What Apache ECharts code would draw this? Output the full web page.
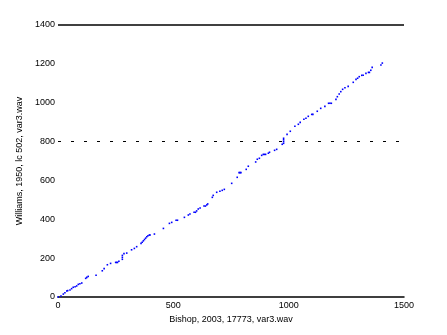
<!DOCTYPE html>
<html><head><meta charset="utf-8">
<script src="https://cdn.jsdelivr.net/npm/echarts@6/dist/echarts.min.js"></script>
<style>html,body{margin:0;padding:0;background:#fff}#c{width:447px;height:335px}</style>
</head><body><div id="c"></div>
<script>
const xName = 'Bishop, 2003, 17773, var3.wav';
const yName = 'Williams, 1950, lc 502, var3.wav';
const xTicks = [0, 500, 1000, 1500];
const yTicks = [0, 200, 400, 600, 800, 1000, 1200, 1400];
const refSolid = 1400;
const refDotted = 800;
const bishopX = [1,13,23,30,38,42,52,59,66,74,81,88,95,103,120,125,131,165,192,200,214,228,250,254,258,264,279,279,279,286,298,319,331,341,360,365,370,375,380,385,390,396,399,418,457,483,493,512,518,548,565,572,590,596,601,608,616,633,639,645,649,669,673,688,702,712,721,753,777,785,789,793,816,825,857,864,873,883,890,895,900,912,917,939,948,972,978,978,978,978,993,1007,1027,1042,1050,1066,1075,1085,1100,1105,1124,1139,1157,1173,1179,1185,1205,1211,1219,1226,1234,1244,1258,1280,1292,1299,1306,1317,1323,1335,1346,1350,1356,1362,1400,1406];
const williamsY = [0,5,15,22,31,33,36,43,50,53,57,65,68,72,96,101,106,112,135,146,166,173,178,178,178,184,194,204,214,223,226,243,250,259,276,282,289,296,303,310,315,319,319,324,353,379,384,395,395,410,422,427,436,436,443,453,458,468,468,474,479,513,523,539,544,549,554,585,616,640,640,640,657,673,695,709,714,729,734,734,734,740,745,755,760,786,791,800,809,817,837,853,879,889,899,915,920,930,940,940,956,971,981,997,997,997,1017,1031,1045,1057,1069,1077,1084,1105,1120,1126,1134,1141,1141,1151,1156,1156,1167,1182,1194,1204];
const points = bishopX.map((x, i) => [x, williamsY[i]]);
const chart = echarts.init(document.getElementById('c'));
const font = {fontFamily: 'Liberation Sans, Arial, sans-serif', fontSize: 9, color: '#000'};
const plain = v => String(v);
chart.setOption({
  animation: false,
  grid: {left: 58, right: 43, top: 25, bottom: 38},
  xAxis: {
    type: 'value', min: xTicks[0], max: xTicks[xTicks.length - 1], interval: 500,
    name: xName, nameLocation: 'middle', nameGap: 15,
    nameTextStyle: font,
    axisLine: {show: true, onZero: false, lineStyle: {color: '#000', width: 1.5}},
    axisTick: {show: false},
    axisLabel: Object.assign({margin: 4, formatter: plain}, font),
    splitLine: {show: false}
  },
  yAxis: {
    type: 'value', min: yTicks[0], max: yTicks[yTicks.length - 1], interval: 200,
    name: yName, nameLocation: 'middle', nameGap: 32,
    nameTextStyle: font,
    axisLine: {show: false},
    axisTick: {show: false},
    axisLabel: Object.assign({margin: 3, formatter: plain}, font),
    splitLine: {show: false}
  },
  series: [{
    type: 'scatter',
    data: points,
    symbol: 'rect',
    symbolSize: 1.6,
    itemStyle: {color: '#0000ff', opacity: 1},
    markLine: {
      silent: true, symbol: ['none', 'none'], label: {show: false},
      data: [
        {yAxis: refSolid, lineStyle: {color: '#000', width: 1.5, type: 'solid'}},
        {yAxis: refDotted, lineStyle: {color: '#000', width: 1, type: [3, 10]}}
      ]
    }
  }]
});
</script></body></html>
